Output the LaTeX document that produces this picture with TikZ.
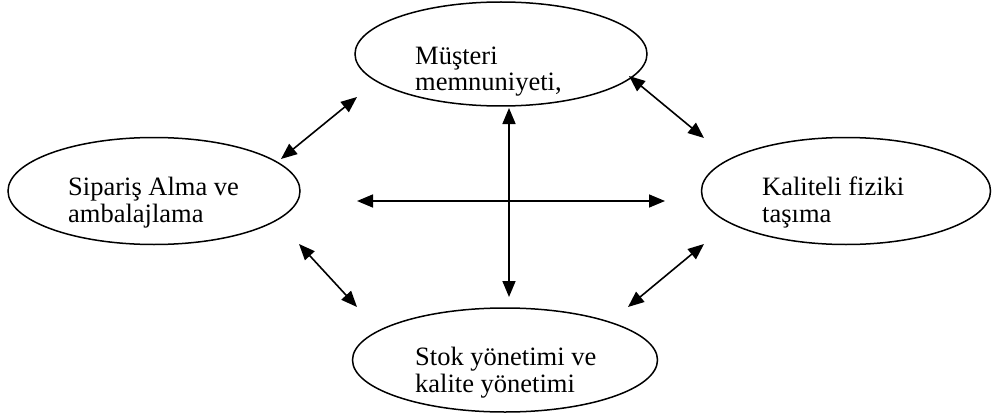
\documentclass[tikz,border=0pt]{standalone}
\usepackage{fontspec}
\setmainfont{Liberation Serif}
\usetikzlibrary{arrows.meta,shapes.geometric}
\begin{document}
\begin{tikzpicture}[x=1pt,y=-1pt,
  oval/.style={draw,line width=1.5pt,ellipse,inner sep=0pt},
  txt/.style={anchor=base west,inner sep=0pt,font=\fontsize{26.5}{27}\selectfont},
  link/.style={line width=1.6pt,{Triangle[length=16pt,width=13pt]}-{Triangle[length=16pt,width=13pt]}}]
\useasboundingbox (0,0) rectangle (992,417);
% ellipses
\node[oval,minimum width=292pt,minimum height=104pt] (top) at (501,54) {};
\node[oval,minimum width=292pt,minimum height=107pt] (left) at (154,191) {};
\node[oval,minimum width=289pt,minimum height=107pt] (right) at (846,191) {};
\node[oval,minimum width=305pt,minimum height=104pt] (bottom) at (505,360) {};
% labels
\node[txt] (t1) at (415,65) {Müşteri};
\node[txt] (t2) at (415,91) {memnuniyeti,};
\node[txt] (l1) at (68,195) {Sipariş Alma ve};
\node[txt] (l2) at (68,222) {ambalajlama};
\node[txt] (r1) at (762,195) {Kaliteli fiziki};
\node[txt] (r2) at (762,222) {taşıma};
\node[txt] (b1) at (415,365) {Stok yönetimi ve};
\node[txt] (b2) at (415,392) {kalite yönetimi};
% arrow end points
\coordinate (tlA) at (281,159);
\coordinate (tlB) at (357,97);
\coordinate (trA) at (629,76);
\coordinate (trB) at (704,138);
\coordinate (blA) at (299,244);
\coordinate (blB) at (357,307);
\coordinate (brA) at (704,244);
\coordinate (brB) at (628,307);
\coordinate (vA) at (509,108);
\coordinate (vB) at (509,297);
\coordinate (hA) at (357,201);
\coordinate (hB) at (665,201);
% connectors
\draw[link] (tlA) -- (tlB);
\draw[link] (trA) -- (trB);
\draw[link] (blA) -- (blB);
\draw[link] (brA) -- (brB);
\draw[link] (vA) -- (vB);
\draw[link] (hA) -- (hB);
\end{tikzpicture}
\end{document}
